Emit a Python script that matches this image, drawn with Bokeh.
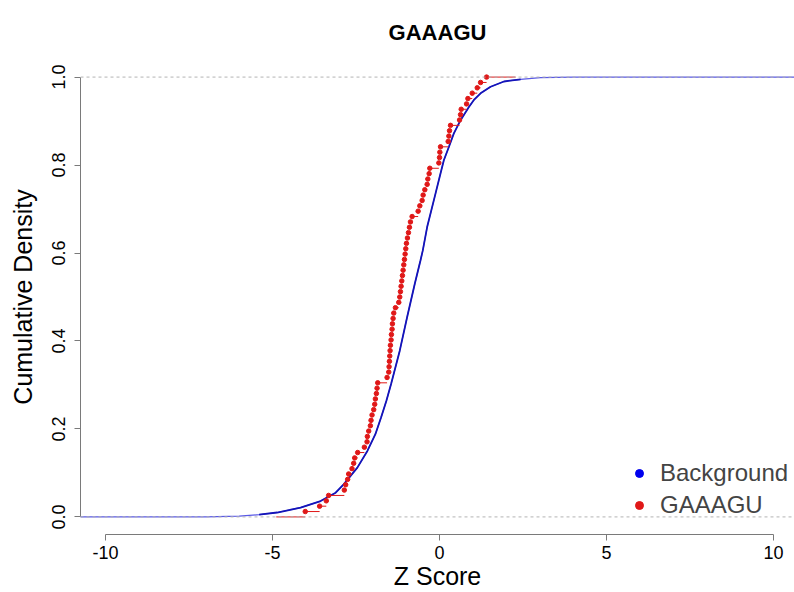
import numpy as np
from bokeh.plotting import figure
from bokeh.models import Span, Legend, LegendItem, FixedTicker, PrintfTickFormatter
from bokeh.embed import file_html
from bokeh.resources import INLINE

title_text = "GAAAGU"
x_label = "Z Score"
y_label = "Cumulative Density"
series_names = ["Background", "GAAAGU"]
x_ticks = [-10, -5, 0, 5, 10]
y_ticks = [0.0, 0.2, 0.4, 0.6, 0.8, 1.0]

# Z scores of the motif's sites
motif_z = [-4.02, -3.59, -3.39, -3.32, -2.85, -2.81, -2.75, -2.72, -2.62, -2.57,
           -2.54, -2.45, -2.25, -2.17, -2.16, -2.12, -2.07, -2.05, -2.02, -1.97,
           -1.94, -1.92, -1.89, -1.87, -1.85, -1.57, -1.52, -1.51, -1.50, -1.49,
           -1.48, -1.47, -1.45, -1.44, -1.42, -1.41, -1.39, -1.37, -1.32, -1.22,
           -1.19, -1.17, -1.15, -1.13, -1.11, -1.09, -1.07, -1.05, -1.03, -1.01,
           -0.99, -0.96, -0.93, -0.90, -0.87, -0.82, -0.64, -0.59, -0.52, -0.49,
           -0.44, -0.37, -0.35, -0.31, -0.29, -0.02, 0.00, 0.01, 0.03, 0.26,
           0.28, 0.30, 0.33, 0.60, 0.63, 0.65, 0.81, 0.85, 0.98, 1.13,
           1.23, 1.41]

# Background cumulative density curve
bg_z = [-10.8, -7.0, -6.0, -5.4, -4.86, -4.16, -3.56, -3.11, -2.87, -2.46,
        -2.16, -1.92, -1.75, -1.59, -1.45, -1.19, -0.97, -0.74, -0.57, -0.50,
        -0.37, -0.12, 0.03, 0.13, 0.28, 0.43, 0.63, 0.88, 1.03, 1.23,
        1.53, 1.93, 2.43, 3.02, 4.0, 10.7]
bg_cdf = [0.0, 0.0, 0.002, 0.005, 0.010, 0.021, 0.036, 0.055, 0.074, 0.112,
          0.150, 0.188, 0.226, 0.264, 0.302, 0.378, 0.454, 0.530, 0.583, 0.606,
          0.659, 0.735, 0.781, 0.811, 0.841, 0.872, 0.902, 0.932, 0.948, 0.963,
          0.978, 0.990, 0.995, 0.999, 1.0, 1.0]

BLUE = "#1414b8"
BLUE_LIGHT = "#5a5ae6"
BLUE_DOT = "#0000ee"
RED = "#e01818"
FONT = "Liberation Sans"

# ECDF of the motif (as R's plot.ecdf draws it)
zs = np.sort(np.array(motif_z))
n = len(zs)
cdf = np.arange(1, n + 1) / n
dr = max(0.08 * (zs[-1] - zs[0]), float(np.median(np.diff(zs))))
ti = np.concatenate([[zs[0] - 2 * dr], zs, [zs[-1] + 2 * dr]])
seg_y = np.concatenate([[0.0], cdf])

bgz = np.array(bg_z)
bgc = np.array(bg_cdf)
core = (bgc >= 0.004) & (bgc <= 0.996)

p = figure(width=794, height=592, x_range=(-10.75, 10.63), y_range=(-0.04, 1.04),
           output_backend="svg", toolbar_location=None,
           min_border_left=80, min_border_right=0, min_border_top=59, min_border_bottom=58)
p.outline_line_color = None
p.grid.visible = False
p.background_fill_color = "white"

p.title.text = title_text
p.title.align = "center"
p.title.text_font = FONT
p.title.text_font_size = "22px"
p.title.text_font_style = "bold"
p.title.text_color = "black"
p.title.standoff = 30

for yv in (0.0, 1.0):
    p.add_layout(Span(location=yv, dimension="width", line_color="#b3b3b3",
                      line_dash="3 3", line_width=1))

p.line(bgz, bgc, line_color=BLUE_LIGHT, line_width=1.2)
p.line(bgz[core], bgc[core], line_color=BLUE, line_width=1.8)
bg_pts = p.scatter(bgz, bgc, size=0, fill_color=BLUE_DOT, line_color=BLUE_DOT)

p.segment(x0=ti[:-1], y0=seg_y, x1=ti[1:], y1=seg_y, line_color=RED, line_width=1)
red_pts = p.scatter(zs, cdf, size=4.5, fill_color=RED, line_color=RED)

for ax in (p.xaxis[0], p.yaxis[0]):
    ax.axis_line_color = "#7a7a7a"
    ax.major_tick_line_color = "#7a7a7a"
    ax.minor_tick_line_color = None
    ax.major_tick_in = 0
    ax.major_tick_out = 6
    ax.major_label_text_font = FONT
    ax.major_label_text_font_size = "18px"
    ax.major_label_text_color = "black"
    ax.axis_label_text_font = FONT
    ax.axis_label_text_font_size = "25px"
    ax.axis_label_text_font_style = "normal"
    ax.axis_label_text_color = "black"

p.xaxis.ticker = FixedTicker(ticks=x_ticks)
p.xaxis.formatter = PrintfTickFormatter(format="%d")
p.xaxis.bounds = (x_ticks[0], x_ticks[-1])
p.xaxis.axis_label = x_label
p.xaxis.major_label_standoff = 5
p.xaxis.axis_label_standoff = 0

p.yaxis.ticker = FixedTicker(ticks=y_ticks)
p.yaxis.formatter = PrintfTickFormatter(format="%.1f")
p.yaxis.bounds = (y_ticks[0], y_ticks[-1])
p.yaxis.axis_label = y_label
p.yaxis.major_label_orientation = "vertical"
p.yaxis.major_label_standoff = 9
p.yaxis.axis_label_standoff = 13

legend = Legend(items=[LegendItem(label=series_names[0], renderers=[bg_pts]),
                       LegendItem(label=series_names[1], renderers=[red_pts])],
                location=(549, 15), orientation="vertical",
                border_line_color=None, background_fill_alpha=0,
                padding=0, margin=0, spacing=4, glyph_width=20, glyph_height=20,
                label_height=20, label_standoff=11,
                label_text_font=FONT, label_text_font_size="24px")
p.add_layout(legend)

open("out.html", "w").write(file_html(p, INLINE))
